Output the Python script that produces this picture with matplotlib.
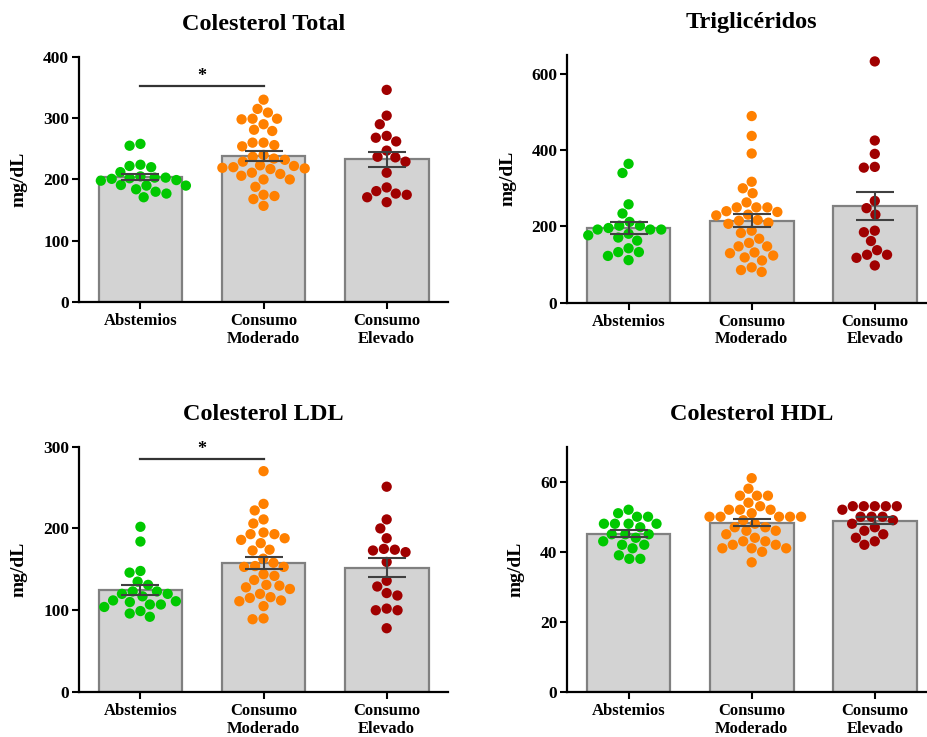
import numpy as np
import matplotlib
matplotlib.use('Agg')
import matplotlib.pyplot as plt

plt.rcParams['font.family'] = ['Liberation Serif', 'DejaVu Serif']
plt.rcParams['font.weight'] = 'bold'

groups = ['Abstemios', 'Consumo\nModerado', 'Consumo\nElevado']
colors = ['#00C800', '#FF8000', '#A00000']

# values (mg/dL)
total_abs = [258, 255, 222, 220, 224, 212, 203, 202, 201, 203, 205, 190, 191, 190, 198, 199, 184, 180, 177, 171]
total_mod = [330, 315, 309, 299, 299, 298, 290, 281, 279, 260, 260, 256, 254, 240, 237, 234, 232, 229, 223, 222,
             220, 219, 218, 217, 211, 209, 206, 200, 200, 188, 175, 173, 168, 157]
total_ele = [346, 304, 290, 271, 268, 262, 247, 237, 236, 229, 211, 187, 181, 177, 175, 171, 163]

tg_abs = [364, 340, 258, 234, 212, 202, 202, 196, 192, 192, 192, 181, 177, 171, 163, 143, 133, 133, 123, 112]
tg_mod = [489, 437, 391, 317, 300, 287, 263, 250, 250, 250, 240, 238, 231, 229, 217, 215, 210, 207, 189, 183,
          168, 157, 148, 148, 132, 130, 124, 119, 111, 93, 86, 81]
tg_ele = [632, 425, 390, 356, 354, 267, 248, 231, 189, 185, 162, 138, 126, 126, 118, 98]

ldl_abs = [202, 184, 148, 146, 135, 131, 123, 123, 120, 120, 117, 112, 111, 110, 107, 107, 104, 99, 96, 92]
ldl_mod = [270, 230, 222, 211, 206, 195, 193, 193, 188, 186, 182, 174, 173, 163, 158, 154, 153, 153, 144, 142,
           137, 131, 130, 128, 126, 120, 116, 115, 112, 111, 105, 90, 89]
ldl_ele = [251, 211, 200, 188, 175, 174, 173, 171, 159, 136, 129, 121, 118, 102, 100, 100, 78]

hdl_abs = [52, 51, 50, 50, 48, 48, 48, 48, 47, 45, 45, 45, 44, 43, 42, 42, 41, 39, 38, 38]
hdl_mod = [61, 58, 56, 56, 56, 54, 53, 52, 52, 52, 51, 50, 50, 50, 50, 50, 49, 48, 47, 47, 46, 46, 45, 44, 43,
           43, 42, 42, 41, 41, 41, 40, 37]
hdl_ele = [53, 53, 53, 53, 53, 52, 50, 50, 50, 49, 48, 47, 46, 45, 44, 43, 42]

panels = [
    ('Colesterol Total', [total_abs, total_mod, total_ele], 400, [0, 100, 200, 300, 400], (353, 368)),
    ('Triglicéridos', [tg_abs, tg_mod, tg_ele], 650, [0, 200, 400, 600], None),
    ('Colesterol LDL', [ldl_abs, ldl_mod, ldl_ele], 300, [0, 100, 200, 300], (285, 297)),
    ('Colesterol HDL', [hdl_abs, hdl_mod, hdl_ele], 70, [0, 20, 40, 60], None),
]
positions = [
    [0.085, 0.590, 0.398, 0.333],
    [0.611, 0.589, 0.398, 0.337],
    [0.085, 0.061, 0.398, 0.333],
    [0.611, 0.061, 0.398, 0.333],
]


def swarm(ax, x0, vals, d):
    # simple beeswarm in pixel space, returns x positions in data units
    ys = ax.transData.transform(np.column_stack([np.full(len(vals), x0), vals]))[:, 1]
    pxu = ax.transData.transform((1, 0))[0] - ax.transData.transform((0, 0))[0]
    order = np.argsort(-ys)
    placed = []
    offs = np.zeros(len(vals))
    for i in order:
        y = ys[i]
        cands = [0.0]
        near = [(px, py) for px, py in placed if abs(py - y) < d]
        for px, py in near:
            h = np.sqrt(d * d - (py - y) ** 2)
            cands += [px - h, px + h]
        cands.sort(key=lambda c: (abs(c), c))
        for c in cands:
            if all((c - px) ** 2 + (y - py) ** 2 >= d * d - 1e-6 for px, py in near):
                offs[i] = c
                placed.append((c, y))
                break
    return x0 + offs / pxu


fig = plt.figure(figsize=(9.28, 7.37), dpi=100)
for (title, data, ymax, yt, sig), pos in zip(panels, positions):
    ax = fig.add_axes(pos)
    ax.set_xlim(-0.5, 2.5)
    ax.set_ylim(0, ymax)
    means = [np.mean(v) for v in data]
    sems = [np.std(v, ddof=1) / np.sqrt(len(v)) for v in data]
    ax.bar(range(3), means, width=0.68, color='#D3D3D3', edgecolor='#808080', linewidth=1.6, zorder=1)
    for i, v in enumerate(data):
        xs = swarm(ax, i, v, 11)
        ax.scatter(xs, v, s=55, color=colors[i], edgecolors='none', zorder=2)
    ax.errorbar(range(3), means, yerr=sems, fmt='none', ecolor='#404040', elinewidth=1.5,
                capsize=14, capthick=1.5, zorder=3)
    if sig:
        ax.plot([0, 1], [sig[0], sig[0]], color='#333333', lw=1.6, zorder=3)
        ax.text(0.5, sig[1], '*', ha='center', va='center', fontsize=13, fontweight='bold')
    ax.set_yticks(yt)
    ax.set_xticks(range(3))
    ax.set_xticklabels(groups, fontsize=12, fontweight='bold', linespacing=1.12)
    ax.tick_params(axis='y', labelsize=12.5, width=1.5, length=5, pad=2)
    ax.tick_params(axis='x', width=1.5, length=5, pad=3)
    for lbl in ax.get_yticklabels():
        lbl.set_fontweight('bold')
    ax.spines['top'].set_visible(False)
    ax.spines['right'].set_visible(False)
    ax.spines['left'].set_linewidth(1.6)
    ax.spines['bottom'].set_linewidth(1.6)
    ax.set_ylabel('mg/dL', fontsize=14, fontweight='bold', labelpad=11)
    ax.set_title(title, fontsize=17.5, fontweight='bold', pad=19)

fig.savefig('out.png', dpi=100)
